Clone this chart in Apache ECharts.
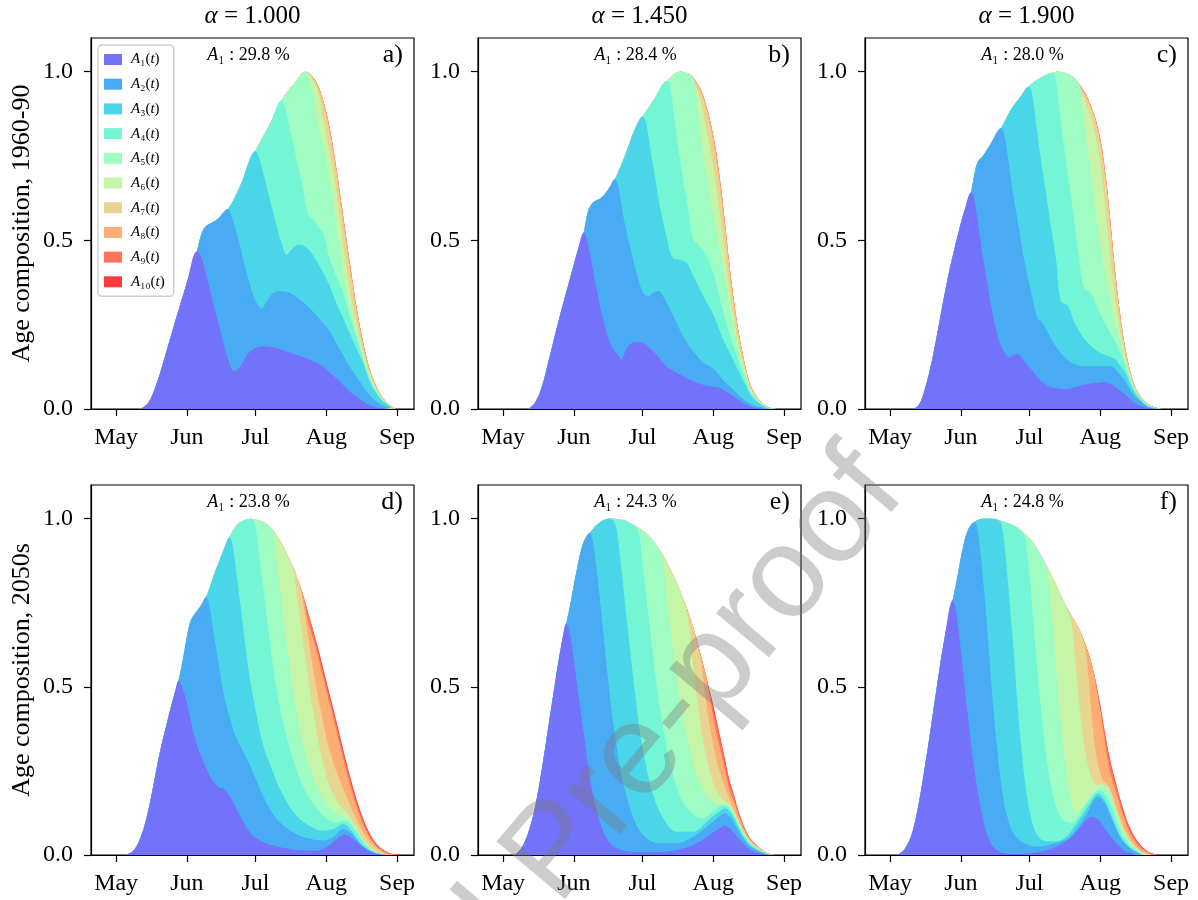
<!DOCTYPE html>
<html><head><meta charset="utf-8">
<script src="https://cdn.jsdelivr.net/npm/echarts@6/dist/echarts.min.js"></script>
<style>html,body{margin:0;padding:0;background:#fff}#c{width:1198px;height:900px}</style>
</head><body><div id="c"></div>
<script>
// ---- axis / text data ----
const monthTicks = [121, 152, 182, 213, 244];          // day of year
const monthLabels = ['May', 'Jun', 'Jul', 'Aug', 'Sep'];
const yTicks = [0, 0.5, 1.0];
const alphaLabels = ['1.000', '1.450', '1.900'];
const rowLabels = ['Age composition, 1960-90', 'Age composition, 2050s'];
const a1Shares = ['29.8', '28.4', '28.0', '23.8', '24.3', '24.8'];
const panelTags = ['a)', 'b)', 'c)', 'd)', 'e)', 'f)'];
const classNames = ['A1','A2','A3','A4','A5','A6','A7','A8','A9','A10'];
const classColors = ['#7272fa','#4aabf5','#4ad6e8','#73f5d6','#9ffdc3','#c6f5a7','#e8d590','#ffad73','#ff7358','#ff3a3a'];

// ---- cumulative age composition: T = total, Ck = A1+...+Ak ([day, value]) ----
// panel a
const aT = [[131.5,0],[135,0.017],[138.8,0.076],[143.2,0.175],[147.5,0.274],[151.9,0.373],[156.3,0.467],[158.5,0.522],[160.4,0.542],[165,0.561],[170.1,0.594],[175.2,0.66],[182.1,0.766],[188.3,0.844],[193.4,0.915],[198.6,0.962],[204,1.0],[206,0.992],[208.8,0.967],[211.7,0.913],[214.6,0.829],[217.5,0.71],[220.4,0.571],[223.3,0.433],[226.2,0.304],[229.2,0.195],[232.1,0.116],[235,0.066],[237.9,0.032],[241.6,0.007],[243.7,0]];
const aC1 = [[156.3,0.467],[157.7,0.46],[159.9,0.413],[162.8,0.334],[166.5,0.235],[170.1,0.146],[172.7,0.111],[175.2,0.126],[179.6,0.17],[185.4,0.185],[191.3,0.18],[197.1,0.167],[204.4,0.15],[211.7,0.126],[214.6,0.106],[217.5,0.091],[220.4,0.071],[223.3,0.051],[226.2,0.036],[229.2,0.022],[232.1,0.011],[235,0.005],[239,0]];
const aC2 = [[170.1,0.594],[171.6,0.571],[173.8,0.522],[176.7,0.443],[179.6,0.368],[182.5,0.314],[184.7,0.299],[186.9,0.319],[189.8,0.344],[193.4,0.349],[197.1,0.344],[201.5,0.324],[205.8,0.299],[211.7,0.254],[214.6,0.23],[217.5,0.195],[220.4,0.16],[223.3,0.125],[226.2,0.096],[229.2,0.066],[232.1,0.04],[235,0.022],[237.9,0.01],[241.6,0.002]];
const aC3 = [[182.1,0.766],[183.2,0.754],[185.4,0.7],[188.3,0.621],[191.3,0.542],[193.9,0.482],[195.6,0.457],[197.8,0.472],[200.7,0.487],[203.7,0.482],[206.6,0.462],[209.5,0.43],[211.7,0.403],[214.6,0.363],[217.5,0.313],[220.4,0.269],[223.3,0.224],[226.2,0.18],[229.2,0.135],[232.1,0.08],[235,0.046],[237.9,0.022],[241.6,0.004]];
const aC4 = [[193.4,0.915],[194.9,0.893],[197.1,0.829],[200,0.74],[202.9,0.65],[205.1,0.576],[207,0.563],[209.5,0.54],[211.7,0.521],[214.6,0.442],[217.5,0.392],[220.4,0.343],[223.3,0.274],[226.2,0.215],[229.2,0.146],[232.1,0.088],[235,0.051],[237.9,0.025],[241.6,0.005]];
const aC5 = [[204,1.0],[205.1,0.987],[206.6,0.953],[208.8,0.868],[211.7,0.779],[214.6,0.68],[217.5,0.542],[220.4,0.412],[223.3,0.304],[226.2,0.23],[229.2,0.156],[232.1,0.095],[235,0.055],[237.9,0.027],[241.6,0.005]];
const aC6 = [[205.8,0.99],[208,0.965],[209.8,0.93],[211.7,0.863],[214.6,0.759],[217.5,0.641],[220.4,0.491],[223.3,0.353],[226.2,0.254],[229.2,0.166],[232.1,0.1],[235,0.058],[237.9,0.029],[241.6,0.006]];
const aC7 = [[206.3,0.988],[208.8,0.962],[211.7,0.905],[214.6,0.816],[217.5,0.694],[220.4,0.552],[223.3,0.415],[226.2,0.29],[229.2,0.186],[232.1,0.111],[235,0.063],[237.9,0.031],[241.6,0.006],[243.5,0]];
// panel b
const bT = [[132,0],[134.9,0.018],[137.8,0.062],[141.4,0.156],[145.8,0.275],[150.2,0.384],[153.8,0.473],[156.3,0.523],[158.2,0.587],[160.4,0.612],[164.1,0.627],[167,0.651],[169.9,0.681],[174.3,0.75],[178.7,0.83],[182,0.867],[186.7,0.914],[192.8,0.973],[198.4,1.0],[201.3,0.996],[204.2,0.983],[208.6,0.929],[213,0.81],[215.9,0.681],[218.1,0.552],[220.3,0.414],[223.2,0.265],[226.1,0.156],[229,0.077],[231.9,0.038],[236.3,0.008],[240.7,0]];
const bC1 = [[156.3,0.523],[157.5,0.508],[159.7,0.434],[161.9,0.354],[164.8,0.265],[168.4,0.186],[171.5,0.158],[172.8,0.147],[174.5,0.17],[176.5,0.192],[179.4,0.199],[182.3,0.196],[186.7,0.171],[192.5,0.127],[198.4,0.102],[204.2,0.082],[209,0.071],[213,0.066],[215.9,0.062],[218.1,0.053],[220.3,0.045],[223.2,0.031],[226.1,0.018],[229,0.008],[231.9,0.003],[236,0]];
const bC2 = [[169.9,0.681],[171.4,0.661],[173.6,0.572],[176.5,0.483],[179.4,0.404],[182.3,0.345],[184.9,0.335],[186.7,0.345],[188.9,0.35],[191.8,0.325],[195.5,0.275],[199.8,0.216],[204.2,0.171],[208.6,0.138],[213,0.12],[215.9,0.097],[218.1,0.08],[220.3,0.067],[223.2,0.047],[226.1,0.03],[229,0.016],[231.9,0.008],[236.3,0.001]];
const bC3 = [[182,0.867],[183.5,0.85],[185.2,0.78],[187.4,0.691],[189.6,0.602],[192.5,0.513],[195.2,0.449],[198.4,0.442],[201.3,0.434],[204.2,0.394],[208.6,0.335],[213,0.28],[215.9,0.23],[218.1,0.195],[220.3,0.165],[223.2,0.124],[226.1,0.085],[229,0.046],[231.9,0.023],[236.3,0.004],[240,0]];
const bC4 = [[192.8,0.973],[194,0.963],[195.5,0.889],[197.6,0.78],[199.8,0.681],[202,0.592],[204.2,0.503],[206.8,0.485],[209.3,0.463],[213,0.404],[215.9,0.325],[218.1,0.27],[220.3,0.22],[223.2,0.16],[226.1,0.105],[229,0.054],[231.9,0.027],[236.3,0.005],[240.2,0]];
const bC5 = [[203.9,0.983],[204.9,0.968],[206.4,0.879],[208.6,0.76],[210.8,0.661],[213,0.572],[215.9,0.473],[218.1,0.39],[220.3,0.3],[223.2,0.2],[226.1,0.122],[229,0.061],[231.9,0.03],[236.3,0.006],[240.4,0]];
const bC6 = [[202.5,0.99],[206.9,0.929],[210,0.83],[213,0.72],[215.9,0.58],[218.1,0.46],[220.3,0.345],[223.2,0.222],[226.1,0.133],[229,0.066],[231.9,0.033],[236.3,0.007],[240.5,0]];
const bC7 = [[203.7,0.985],[208.1,0.929],[210.8,0.866],[213,0.792],[215.9,0.66],[218.1,0.532],[220.3,0.397],[223.2,0.254],[226.1,0.15],[229,0.074],[231.9,0.036],[236.3,0.007],[240.6,0]];
// panel c
const cT = [[131.5,0],[133.7,0.013],[135.9,0.052],[138.1,0.107],[140.3,0.176],[142.5,0.255],[144.7,0.335],[146.9,0.409],[149.1,0.473],[151.3,0.533],[153.5,0.587],[156.4,0.642],[157.9,0.696],[159.4,0.733],[161.6,0.75],[164.5,0.78],[169.6,0.833],[174,0.889],[178.4,0.929],[181.6,0.956],[186.4,0.98],[191.9,0.996],[194.5,1.0],[198.9,0.993],[203,0.97],[207.7,0.919],[212.1,0.83],[215,0.711],[217.2,0.572],[219.4,0.414],[221.6,0.285],[223.8,0.186],[226.7,0.097],[229.6,0.048],[234,0.013],[239.9,0]];
const cC1 = [[156.4,0.642],[157.6,0.632],[159.4,0.552],[161.6,0.453],[163.8,0.364],[166.7,0.255],[169.6,0.186],[171.8,0.161],[173.3,0.153],[175.5,0.162],[176.9,0.163],[179.1,0.147],[182.8,0.117],[187.2,0.082],[191.6,0.065],[197.4,0.059],[203.3,0.067],[208,0.075],[212.1,0.078],[215,0.079],[217.2,0.075],[219.4,0.067],[221.6,0.055],[223.8,0.043],[226.7,0.025],[229.6,0.012],[234,0.003],[238.4,0]];
const cC2 = [[169.6,0.833],[171.1,0.81],[173.3,0.711],[175.5,0.612],[177.7,0.523],[179.9,0.434],[182.8,0.345],[185.7,0.265],[187.2,0.26],[190.1,0.226],[194.5,0.176],[200.4,0.137],[206.2,0.127],[212.1,0.127],[215,0.127],[217.2,0.127],[219.4,0.12],[221.6,0.102],[223.8,0.083],[226.7,0.05],[229.6,0.028],[234,0.006],[239,0]];
const cC3 = [[181.6,0.956],[183.1,0.934],[185,0.84],[187.2,0.731],[189.4,0.632],[191.6,0.533],[193.8,0.434],[195.7,0.32],[198.9,0.305],[201.8,0.255],[206.2,0.206],[210,0.18],[212.1,0.17],[215,0.161],[217.2,0.156],[219.4,0.148],[221.6,0.13],[223.8,0.11],[226.7,0.065],[229.6,0.035],[234,0.008],[239,0]];
const cC4 = [[191.9,0.996],[193.3,0.983],[194.8,0.909],[196.7,0.8],[198.9,0.691],[201.1,0.582],[203.3,0.473],[205.9,0.359],[208.8,0.345],[212.1,0.295],[215,0.255],[217.2,0.228],[219.4,0.2],[221.6,0.17],[223.8,0.132],[226.7,0.075],[229.6,0.039],[234,0.01],[239.5,0]];
const cC5 = [[203,0.97],[204.2,0.953],[205.5,0.879],[207.7,0.76],[209.9,0.642],[212.1,0.533],[215,0.41],[217.2,0.33],[219.4,0.265],[221.6,0.205],[223.8,0.147],[226.7,0.082],[229.6,0.042],[234,0.011],[239.6,0]];
const cC6 = [[203.5,0.962],[206.8,0.905],[209.5,0.85],[212.1,0.77],[215,0.61],[217.2,0.46],[219.4,0.335],[221.6,0.235],[223.8,0.16],[226.7,0.088],[229.6,0.044],[234,0.012],[239.7,0]];
const cC7 = [[205,0.945],[208.5,0.902],[212.1,0.82],[215,0.698],[217.2,0.556],[219.4,0.4],[221.6,0.275],[223.8,0.18],[226.7,0.095],[229.6,0.047],[234,0.012],[239.8,0]];
// panel d
const dT = [[124.9,0],[128.6,0.013],[131.5,0.048],[134.4,0.112],[137.3,0.206],[140.2,0.306],[143.9,0.41],[146.8,0.485],[148.3,0.518],[149.5,0.555],[151.2,0.618],[153.4,0.692],[155.5,0.717],[157.7,0.737],[160.4,0.767],[164.3,0.841],[168,0.906],[170.6,0.945],[174.5,0.985],[179.9,1.0],[181.1,0.998],[185.4,0.99],[189.1,0.97],[193.4,0.926],[197.8,0.866],[202.2,0.787],[205.8,0.702],[209.5,0.613],[213.1,0.514],[216.8,0.415],[220.4,0.315],[223.3,0.236],[226.2,0.167],[229.2,0.107],[232.1,0.063],[235,0.033],[238.6,0.013],[242.3,0.003],[245.2,0]];
const dC1 = [[148.3,0.518],[150.4,0.49],[152.6,0.435],[154.8,0.365],[157,0.316],[159.9,0.266],[162.8,0.226],[165.8,0.201],[167.9,0.198],[170.1,0.182],[173,0.147],[176,0.107],[179.6,0.067],[184,0.043],[189.8,0.028],[197.1,0.018],[204.4,0.013],[211.7,0.018],[216,0.038],[221.1,0.06],[224.8,0.048],[229.2,0.023],[233.5,0.005],[237.9,0]];
const dC2 = [[160.4,0.767],[161.8,0.742],[163.6,0.663],[165.8,0.573],[167.9,0.484],[170.9,0.405],[173.8,0.345],[176.7,0.306],[179.6,0.266],[184,0.196],[188.3,0.137],[192.7,0.097],[198.6,0.067],[205.8,0.048],[211.7,0.043],[216,0.053],[220.4,0.077],[224.1,0.063],[228.4,0.028],[233.5,0.008],[237.9,0.001]];
const dC3 = [[170.6,0.945],[172,0.921],[173.8,0.831],[176,0.712],[178.1,0.593],[180.3,0.494],[182.5,0.415],[185.4,0.325],[189.1,0.256],[193.4,0.187],[198.6,0.127],[204.4,0.092],[211.7,0.072],[216,0.077],[220.4,0.092],[224.1,0.072],[228.4,0.033],[233.5,0.01],[237.9,0.001]];
const dC4 = [[181.1,0.995],[182.2,0.97],[184,0.871],[186.2,0.752],[188.3,0.633],[190.5,0.524],[193.4,0.415],[197.1,0.315],[201.5,0.226],[205.8,0.167],[211.7,0.117],[217.5,0.097],[221.1,0.102],[224.8,0.082],[229.2,0.038],[233.5,0.011],[237.9,0.001]];
const dC5 = [[189.1,0.97],[190.2,0.945],[192,0.841],[194.2,0.712],[196.4,0.593],[198.8,0.474],[201.5,0.375],[205.1,0.276],[209.5,0.196],[214.6,0.142],[219.7,0.117],[223.3,0.107],[227.7,0.058],[232.8,0.016],[237.9,0.001]];
const dC6 = [[197.8,0.866],[198.8,0.841],[200.7,0.742],[202.9,0.633],[205.1,0.524],[207.6,0.415],[210.5,0.306],[213.9,0.216],[218.3,0.152],[221.9,0.127],[226.2,0.082],[231.4,0.028],[236.5,0.003]];
const dC7 = [[201.5,0.8],[203.7,0.712],[205.8,0.613],[208.5,0.504],[211,0.415],[213.9,0.325],[217.5,0.246],[221.1,0.187],[224.8,0.127],[229.2,0.067],[233.5,0.028],[238.6,0.003]];
const dC8 = [[204.8,0.702],[208.5,0.613],[212.1,0.514],[215.8,0.415],[219.4,0.315],[222.3,0.236],[225.2,0.167],[228.2,0.107],[231.1,0.063],[234,0.033],[237.6,0.013],[241.3,0.003],[244.2,0]];
const dC9 = [[209.15,0.613],[212.75,0.514],[216.45,0.415],[220.05,0.315],[222.95,0.236],[225.85,0.167],[228.85,0.107],[231.75,0.063],[234.65,0.033],[238.25,0.013],[241.95,0.003],[244.85,0]];
// panel e
const eT = [[126.1,0],[129,0.02],[131.9,0.064],[134.9,0.139],[137.8,0.248],[140.7,0.376],[143.6,0.505],[146.5,0.624],[148.7,0.688],[150.9,0.762],[153.1,0.842],[156,0.926],[159,0.958],[162.6,0.985],[167,1.0],[172.1,0.998],[177.9,0.982],[183.8,0.955],[189.6,0.906],[195.5,0.832],[199.8,0.762],[203.5,0.693],[207.1,0.604],[210.1,0.525],[213,0.446],[216,0.352],[218,0.29],[220,0.225],[222,0.18],[224.6,0.119],[228.3,0.059],[231.9,0.03],[236.3,0.007],[240,0]];
const eC1 = [[148.7,0.688],[149.9,0.673],[151.7,0.594],[153.8,0.485],[156,0.376],[158.2,0.267],[160.4,0.178],[163.3,0.099],[166.3,0.05],[170.6,0.02],[176.5,0.01],[183.8,0.008],[192.5,0.01],[201.3,0.022],[207.1,0.04],[211.5,0.06],[214,0.072],[216,0.08],[218,0.088],[220,0.08],[222,0.067],[224.6,0.045],[228.3,0.019],[231.9,0.008],[236.3,0.001],[240,0]];
const eC2 = [[159,0.958],[160.1,0.941],[161.9,0.851],[164.1,0.713],[166.3,0.564],[168.4,0.436],[170.6,0.327],[172.8,0.238],[175.7,0.158],[179.4,0.089],[183.8,0.05],[189.6,0.035],[196.9,0.035],[204.2,0.054],[210.1,0.084],[213,0.1],[216,0.117],[218,0.124],[220,0.115],[222,0.096],[224.6,0.065],[228.3,0.03],[231.9,0.014],[236.3,0.003],[240,0]];
const eC3 = [[169.2,0.995],[170.6,0.97],[172.1,0.891],[174.3,0.752],[176.5,0.614],[178.7,0.485],[180.9,0.366],[183.8,0.257],[186.7,0.178],[191.1,0.109],[196.9,0.069],[204.2,0.069],[210.1,0.099],[213,0.116],[216,0.131],[218,0.139],[220,0.131],[222,0.11],[224.6,0.074],[228.3,0.036],[231.9,0.017],[236.3,0.004],[240,0]];
const eC4 = [[179.4,0.972],[180.6,0.95],[182,0.871],[184.1,0.743],[186.3,0.614],[188.4,0.495],[191.1,0.376],[194,0.277],[197.6,0.188],[202.8,0.129],[208.6,0.109],[213,0.13],[216,0.145],[218,0.147],[220,0.14],[222,0.118],[224.6,0.08],[228.3,0.04],[231.9,0.019],[236.3,0.004],[240,0]];
const eC5 = [[189.6,0.906],[190.8,0.881],[192.5,0.782],[194.7,0.653],[196.9,0.535],[199.5,0.416],[202.5,0.317],[205.7,0.238],[210.1,0.178],[213,0.158],[216,0.152],[218,0.15],[220,0.145],[222,0.122],[224.6,0.085],[228.3,0.043],[231.9,0.021],[236.3,0.005],[240,0]];
const eC6 = [[200.6,0.745],[202.1,0.693],[203.5,0.614],[205,0.515],[206.9,0.416],[208.9,0.327],[211.5,0.248],[214,0.195],[216,0.175],[218,0.16],[220,0.15],[222,0.128],[224.6,0.09],[228.3,0.046],[231.9,0.023],[236.3,0.005],[240,0]];
const eC7 = [[206.4,0.615],[207.9,0.564],[209.3,0.485],[210.9,0.406],[213,0.327],[214.5,0.28],[216,0.245],[218,0.205],[220,0.167],[222,0.137],[224.6,0.097],[228.3,0.049],[231.9,0.025],[236.3,0.006],[240,0]];
const eC8 = [[209.8,0.53],[211.2,0.478],[213,0.412],[214.9,0.345],[216,0.318],[218,0.255],[220,0.198],[222,0.16],[224.6,0.108],[228.3,0.055],[231.9,0.028],[236.3,0.006],[240,0]];
const eC9 = [[212.6,0.446],[214,0.404],[216,0.347],[218,0.284],[220,0.22],[222,0.177],[224.6,0.117],[228.3,0.058],[231.9,0.029],[236.3,0.007],[240,0]];
// panel f
const fT = [[124.2,0],[127.1,0.015],[130.1,0.054],[133,0.134],[135.9,0.248],[138.9,0.381],[141.8,0.515],[144.7,0.639],[148.4,0.757],[150.6,0.832],[152.8,0.911],[155,0.965],[157.9,0.99],[161.6,1.0],[165.2,1.0],[169.6,0.993],[175.5,0.978],[179.9,0.955],[184.3,0.921],[188.6,0.871],[193,0.812],[197.4,0.748],[201.1,0.703],[204,0.668],[206.9,0.619],[209.9,0.55],[212.8,0.455],[215,0.366],[217.2,0.287],[219.7,0.218],[222.3,0.153],[225.2,0.094],[228.9,0.045],[233.3,0.013],[238.4,0]];
const fC1 = [[148.4,0.757],[149.4,0.743],[150.9,0.673],[152.8,0.554],[155,0.416],[157.2,0.287],[159.4,0.188],[161.6,0.109],[163.8,0.054],[166.7,0.02],[171.1,0.005],[178.4,0.003],[185.7,0.008],[193,0.022],[198.9,0.045],[202.6,0.069],[206.2,0.099],[209.4,0.114],[212.1,0.104],[215,0.079],[218.7,0.045],[223.1,0.015],[228.2,0.001]];
const fC2 = [[157.9,0.99],[159.1,0.975],[160.5,0.901],[162.3,0.772],[164.2,0.614],[165.9,0.455],[167.9,0.317],[169.9,0.198],[172.5,0.109],[175.5,0.059],[179.9,0.035],[185.7,0.025],[193,0.035],[198.9,0.05],[204,0.09],[207.7,0.13],[211.8,0.173],[215,0.153],[217.9,0.109],[221.6,0.054],[226,0.02],[231.1,0.001]];
const fC3 = [[168.9,0.994],[170,0.975],[171.5,0.891],[173.3,0.752],[175.2,0.594],[176.9,0.436],[178.7,0.297],[180.6,0.188],[183.1,0.099],[186.4,0.05],[191.6,0.04],[197.4,0.05],[203.3,0.1],[207.7,0.145],[212.1,0.183],[215,0.163],[217.9,0.119],[221.6,0.059],[226,0.022],[231.1,0.001]];
const fC4 = [[179.1,0.955],[180.3,0.936],[181.8,0.851],[183.5,0.713],[185.4,0.554],[187.5,0.406],[189.7,0.277],[192.3,0.178],[196,0.109],[200.4,0.094],[204.7,0.129],[209.1,0.173],[212.8,0.193],[215.7,0.173],[218.7,0.129],[222.3,0.064],[226.7,0.025],[231.8,0.001]];
const fC5 = [[188.6,0.871],[189.8,0.842],[191.3,0.752],[193,0.614],[195,0.455],[197,0.307],[199.6,0.188],[202.6,0.124],[206.2,0.15],[209.9,0.185],[213.5,0.203],[216.5,0.188],[219.4,0.139],[223,0.069],[227.5,0.025],[232.6,0.001]];
const fC6 = [[198.9,0.725],[200.4,0.693],[202.1,0.574],[204,0.436],[206.2,0.317],[208.8,0.238],[211.8,0.208],[214,0.21],[216.8,0.193],[219.7,0.139],[223.1,0.074],[227.5,0.028],[232.6,0.001]];
const fC7 = [[205.5,0.638],[206.9,0.594],[208,0.515],[209.2,0.416],[210.6,0.327],[212.4,0.257],[214.3,0.222],[216.8,0.205],[219.4,0.155],[222.3,0.1],[226,0.048],[230.4,0.014],[235.5,0]];
const fC8 = [[209.9,0.55],[211.3,0.497],[212.8,0.44],[214.3,0.372],[215.7,0.305],[217.6,0.24],[220.1,0.184],[223,0.118],[226.4,0.061],[230.4,0.023],[235.5,0.002]];
const fC9 = [[212.5,0.455],[214.7,0.368],[216.9,0.289],[219.4,0.219],[222,0.154],[224.9,0.094],[228.6,0.045],[233,0.013],[238,0]];

const panels = [
  {T: aT, C: [aC1, aC2, aC3, aC4, aC5, aC6, aC7]},
  {T: bT, C: [bC1, bC2, bC3, bC4, bC5, bC6, bC7]},
  {T: cT, C: [cC1, cC2, cC3, cC4, cC5, cC6, cC7]},
  {T: dT, C: [dC1, dC2, dC3, dC4, dC5, dC6, dC7, dC8, dC9]},
  {T: eT, C: [eC1, eC2, eC3, eC4, eC5, eC6, eC7, eC8, eC9]},
  {T: fT, C: [fC1, fC2, fC3, fC4, fC5, fC6, fC7, fC8, fC9]}
];

// cumulative curve k: follows the total until its own branch starts
function fullCurve(T, own) {
  if (!own || !own.length) return T;
  const s = own[0][0];
  return T.filter(p => p[0] < s - 0.2).concat(own);
}

const SERIF = '"Liberation Serif", "DejaVu Serif", serif';
const SUB = '₀₁₂₃₄₅₆₇₈₉';
const sub = n => String(n).split('').map(d => SUB[+d]).join('');

const colLeft = [91, 478, 865], rowTop = [38, 485], gw = 323, gh = [371, 370];
const grids = [], xAxes = [], yAxes = [], series = [], graphics = [];

panels.forEach((p, i) => {
  const r = Math.floor(i / 3), c = i % 3;
  grids.push({left: colLeft[c], top: rowTop[r], width: gw, height: gh[r], show: true,
    borderColor: '#000', borderWidth: 1.2, backgroundColor: 'transparent', containLabel: false});
  xAxes.push({type: 'value', gridIndex: i, min: 110, max: 251.4, z: 10,
    axisLine: {show: true, onZero: false, lineStyle: {color: '#000', width: 1.2}},
    axisTick: {show: true, length: 7, customValues: monthTicks, lineStyle: {color: '#000', width: 1.2}},
    axisLabel: {show: true, customValues: monthTicks, margin: 17, color: '#000', fontSize: 24, fontFamily: SERIF,
      formatter: v => monthLabels[monthTicks.indexOf(v)] || ''},
    splitLine: {show: false}});
  yAxes.push({type: 'value', gridIndex: i, min: 0, max: 1.1, z: 10,
    axisLine: {show: true, onZero: false, lineStyle: {color: '#000', width: 1.2}},
    axisTick: {show: true, length: 7, customValues: yTicks, lineStyle: {color: '#000', width: 1.2}},
    axisLabel: {show: true, customValues: yTicks, margin: 18, color: '#000', fontSize: 24, fontFamily: SERIF,
      formatter: v => Number(v).toFixed(1)},
    splitLine: {show: false}});
  for (let k = 10; k >= 1; k--) {
    const own = p.C[k - 1];
    series.push({type: 'line', name: classNames[k - 1], xAxisIndex: i, yAxisIndex: i,
      data: fullCurve(p.T, own), smooth: 0.35, showSymbol: false, symbol: 'none', silent: true,
      lineStyle: {width: 0}, itemStyle: {color: classColors[k - 1]},
      areaStyle: {color: classColors[k - 1], opacity: 1}});
  }
  // annotations
  graphics.push({type: 'text', x: colLeft[c] + gw / 2 - 4, y: rowTop[r] + 17, z: 50,
    style: {text: '{i|A}{n|' + sub(1) + ' : ' + a1Shares[i] + ' %}', align: 'center', verticalAlign: 'middle',
      textAlign: 'center', textVerticalAlign: 'middle',
      rich: {i: {fontFamily: SERIF, fontStyle: 'italic', fontSize: 18, fill: '#000'},
             n: {fontFamily: SERIF, fontSize: 18, fill: '#000'}}}});
  graphics.push({type: 'text', x: colLeft[c] + gw - 11, y: rowTop[r] + 17, z: 50,
    style: {text: panelTags[i], font: '26px ' + SERIF, fill: '#000', align: 'right', verticalAlign: 'middle',
      textAlign: 'right', textVerticalAlign: 'middle'}});
});

alphaLabels.forEach((a, c) => {
  graphics.push({type: 'text', x: colLeft[c] + gw / 2, y: 16, z: 50,
    style: {text: '{i|α}{n| = ' + a + '}', align: 'center', verticalAlign: 'middle',
      textAlign: 'center', textVerticalAlign: 'middle',
      rich: {i: {fontFamily: SERIF, fontStyle: 'italic', fontSize: 25, fill: '#000'},
             n: {fontFamily: SERIF, fontSize: 25, fill: '#000'}}}});
});
rowLabels.forEach((t, r) => {
  graphics.push({type: 'text', x: 22, y: rowTop[r] + gh[r] / 2, rotation: Math.PI / 2, z: 50,
    style: {text: t, font: '26px ' + SERIF, fill: '#000', align: 'center', verticalAlign: 'middle',
      textAlign: 'center', textVerticalAlign: 'middle'}});
});
// watermark
graphics.push({type: 'text', x: 880, y: 470, rotation: 0.87, z: 100, silent: true,
  style: {text: 'Journal Pre-proof', font: '130px "Liberation Sans", Arial, sans-serif',
    fill: 'rgba(120,120,120,0.38)', align: 'right', verticalAlign: 'middle',
    textAlign: 'right', textVerticalAlign: 'middle'}});

const chart = echarts.init(document.getElementById('c'), null, {renderer: 'canvas'});
chart.setOption({
  animation: false,
  backgroundColor: '#fff',
  grid: grids, xAxis: xAxes, yAxis: yAxes, series: series,
  legend: {show: true, data: classNames, left: 98, top: 45, orient: 'vertical', icon: 'rect',
    itemWidth: 18, itemHeight: 11, itemGap: 9.7, padding: [7, 9, 7, 6],
    backgroundColor: 'rgba(255,255,255,0.8)', borderColor: '#cfcfcf', borderWidth: 1.5, borderRadius: 4,
    selectedMode: false,
    formatter: name => '{i|A}{n|' + sub(name.slice(1)) + '(}{i|t}{n|)}',
    textStyle: {color: '#000', fontSize: 15, fontFamily: SERIF, padding: [0, 0, 0, 4],
      rich: {i: {fontStyle: 'italic', fontFamily: SERIF, fontSize: 15, color: '#000'},
             n: {fontFamily: SERIF, fontSize: 15, color: '#000'}}}},
  graphic: graphics
});
</script>
</body></html>
